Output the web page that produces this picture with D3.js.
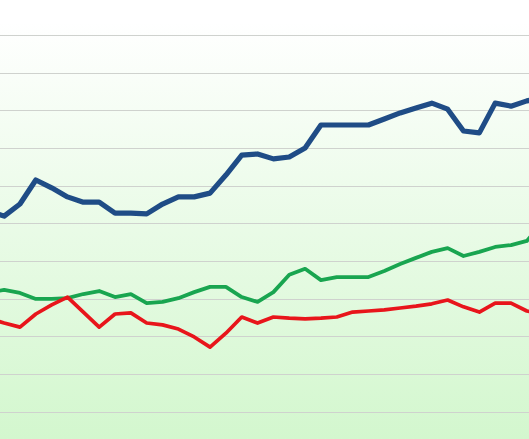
<!DOCTYPE html>
<html>
<head>
<meta charset="utf-8">
<script src="https://cdn.jsdelivr.net/npm/d3@7/dist/d3.min.js"></script>
<style>
  html, body { margin: 0; padding: 0; background: #fff; }
  svg { display: block; }
</style>
</head>
<body>
<div id="chart"></div>
<script>
// periods (no labels shown in the picture, the chart is cropped)
var periods = d3.range(1, 37).map(String);

var blueValues = [53.3, 51.9, 55.1, 61.5, 59.4, 57.0, 55.6, 55.6, 52.7, 52.7,
                  52.5, 55.1, 57.0, 57.0, 58.0, 62.8, 68.1, 68.4, 67.1, 67.6,
                  70.0, 76.1, 76.1, 76.1, 76.1, 77.7, 79.3, 80.6, 81.9, 80.3,
                  74.5, 74.0, 81.9, 81.1, 82.5, 83.3];

var greenValues = [31.5, 32.3, 31.5, 29.9, 29.9, 30.1, 31.2, 32.0, 30.4, 31.2,
                   28.8, 29.1, 30.1, 31.7, 33.1, 33.1, 30.4, 29.1, 31.7, 36.3,
                   37.9, 34.9, 35.7, 35.7, 35.7, 37.3, 39.2, 40.8, 42.4, 43.4,
                   41.3, 42.4, 43.7, 44.2, 45.3, 50.3];

var redValues = [24.8, 23.5, 22.4, 25.9, 28.3, 30.4, 26.4, 22.4, 25.9, 26.2,
                 23.5, 23.0, 21.9, 19.8, 17.1, 20.8, 25.1, 23.5, 25.1, 24.8,
                 24.6, 24.8, 25.1, 26.4, 26.7, 27.0, 27.5, 28.0, 28.6, 29.6,
                 27.8, 26.4, 28.8, 28.8, 26.7, 25.9];

var yTicks = [0, 10, 20, 30, 40, 50, 60, 70, 80, 90, 100];

var width = 529, height = 439;

var svg = d3.select("#chart").append("svg")
    .attr("width", width)
    .attr("height", height);

var defs = svg.append("defs");
var grad = defs.append("linearGradient")
    .attr("id", "bg")
    .attr("x1", 0).attr("y1", 0).attr("x2", 0).attr("y2", 1);
grad.append("stop").attr("offset", "0").attr("stop-color", "#ffffff");
grad.append("stop").attr("offset", "0.05").attr("stop-color", "#ffffff");
grad.append("stop").attr("offset", "1").attr("stop-color", "#d3f7ce");

svg.append("rect")
    .attr("width", width)
    .attr("height", height)
    .attr("fill", "url(#bg)");

var x = d3.scalePoint()
    .domain(periods)
    .range([-11.7, 542.7]);

var y = d3.scaleLinear()
    .domain([0, 100])
    .range([411.5, 35]);

// horizontal gridlines
svg.append("g")
    .attr("class", "grid")
    .call(d3.axisLeft(y).tickValues(yTicks).tickSize(-width * 2).tickFormat(""))
    .call(g => g.select(".domain").remove())
    .call(g => g.selectAll(".tick line")
        .attr("stroke", "#cfd2ce")
        .attr("stroke-width", 1)
        .attr("shape-rendering", "crispEdges"));

function drawLine(values, color, w) {
    var line = d3.line()
        .x((d, i) => x(periods[i]))
        .y(d => y(d));
    svg.append("path")
        .datum(values)
        .attr("fill", "none")
        .attr("stroke", color)
        .attr("stroke-width", w)
        .attr("stroke-linejoin", "round")
        .attr("d", line);
}

drawLine(greenValues, "#19a550", 3.8);
drawLine(redValues, "#e8151b", 3.7);
drawLine(blueValues, "#1f4c86", 5.2);
</script>
</body>
</html>
